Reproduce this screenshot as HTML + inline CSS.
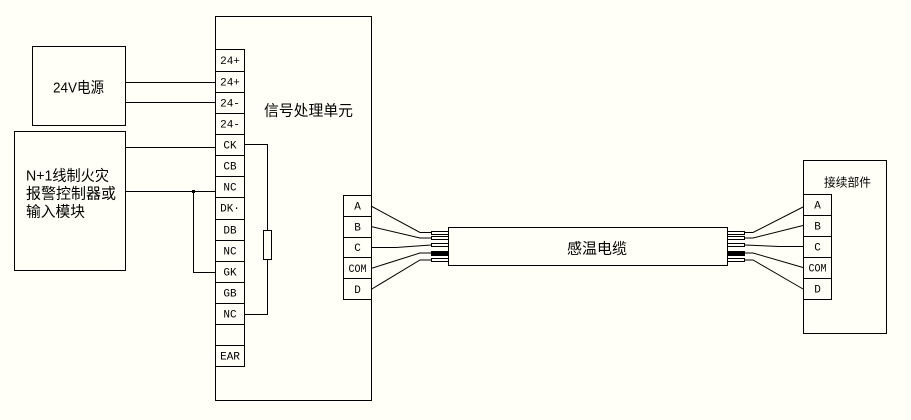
<!DOCTYPE html>
<html>
<head>
<meta charset="utf-8">
<style>
html,body{margin:0;padding:0;background:#fffff7;}
svg{display:block;}
.l{stroke:#000;stroke-width:1;fill:none;shape-rendering:crispEdges;}
.w{stroke:#000;stroke-width:1;fill:none;}
.t{font-family:"Liberation Mono","Noto Sans CJK SC",monospace;font-size:11px;fill:#000;text-anchor:middle;}
.c{font-family:"Liberation Sans","Noto Sans CJK SC",sans-serif;font-size:15px;fill:#000;}
</style>
</head>
<body>
<svg width="911" height="420" viewBox="0 0 911 420" xmlns="http://www.w3.org/2000/svg">
<rect x="0" y="0" width="911" height="420" fill="#fffff7"/>

<!-- 24V power box -->
<rect class="l" x="32.5" y="46.5" width="93" height="79"/>
<text class="c" x="53" y="92.5" textLength="51" lengthAdjust="spacingAndGlyphs">24V电源</text>

<!-- N+1 box -->
<rect class="l" x="14.5" y="131.5" width="111" height="139"/>
<text class="c" x="26" y="180.5" textLength="83" lengthAdjust="spacingAndGlyphs">N+1线制火灾</text>
<text class="c" x="26" y="198.5" textLength="90" lengthAdjust="spacingAndGlyphs">报警控制器或</text>
<text class="c" x="26" y="216.5" textLength="59" lengthAdjust="spacingAndGlyphs">输入模块</text>

<!-- main box -->
<rect class="l" x="215.5" y="16.5" width="156" height="384"/>
<text class="c" x="264" y="115.5" textLength="89" lengthAdjust="spacingAndGlyphs">信号处理单元</text>

<!-- left terminal column -->
<rect class="l" x="215.5" y="49.5" width="29" height="317"/>
<g class="l">
<line x1="215" y1="71.5" x2="245" y2="71.5"/>
<line x1="215" y1="92.5" x2="245" y2="92.5"/>
<line x1="215" y1="113.5" x2="245" y2="113.5"/>
<line x1="215" y1="134.5" x2="245" y2="134.5"/>
<line x1="215" y1="155.5" x2="245" y2="155.5"/>
<line x1="215" y1="176.5" x2="245" y2="176.5"/>
<line x1="215" y1="197.5" x2="245" y2="197.5"/>
<line x1="215" y1="219.5" x2="245" y2="219.5"/>
<line x1="215" y1="240.5" x2="245" y2="240.5"/>
<line x1="215" y1="261.5" x2="245" y2="261.5"/>
<line x1="215" y1="282.5" x2="245" y2="282.5"/>
<line x1="215" y1="303.5" x2="245" y2="303.5"/>
<line x1="215" y1="324.5" x2="245" y2="324.5"/>
<line x1="215" y1="345.5" x2="245" y2="345.5"/>
</g>
<g class="t">
<text x="230" y="64">24+</text>
<text x="230" y="85.5">24+</text>
<text x="230" y="106.5">24-</text>
<text x="230" y="127.5">24-</text>
<text x="230" y="148.5">CK</text>
<text x="230" y="169.5">CB</text>
<text x="230" y="190.5">NC</text>
<text x="230" y="211.5">DK·</text>
<text x="230" y="233.5">DB</text>
<text x="230" y="254.5">NC</text>
<text x="230" y="275.5">GK</text>
<text x="230" y="296.5">GB</text>
<text x="230" y="317.5">NC</text>
<text x="230" y="359.5">EAR</text>
</g>

<!-- connections left -->
<g class="l">
<line x1="125" y1="82.5" x2="215" y2="82.5"/>
<line x1="125" y1="102.5" x2="215" y2="102.5"/>
<line x1="125" y1="147.5" x2="215" y2="147.5"/>
<line x1="125" y1="191.5" x2="215" y2="191.5"/>
<polyline points="193.5,191 193.5,272.5 215,272.5"/>
<!-- resistor loop -->
<polyline points="244,144.5 267.5,144.5 267.5,230"/>
<polyline points="267.5,260 267.5,314.5 244,314.5"/>
<rect x="263.5" y="230.5" width="8" height="29"/>
</g>
<rect x="192" y="190" width="3" height="3" fill="#000"/>

<!-- main box right terminals -->
<rect class="l" x="343.5" y="195.5" width="28" height="104"/>
<g class="l">
<line x1="343" y1="216.5" x2="372" y2="216.5"/>
<line x1="343" y1="237.5" x2="372" y2="237.5"/>
<line x1="343" y1="257.5" x2="372" y2="257.5"/>
<line x1="343" y1="278.5" x2="372" y2="278.5"/>
</g>
<g class="t">
<text x="357.5" y="209.5">A</text>
<text x="357.5" y="230.5">B</text>
<text x="357.5" y="251">C</text>
<text x="357.5" y="272" textLength="18" lengthAdjust="spacingAndGlyphs">COM</text>
<text x="357.5" y="293">D</text>
</g>

<!-- cable -->
<rect class="l" x="448.5" y="227.5" width="279" height="38"/>
<text class="c" x="567" y="253.5" textLength="60" lengthAdjust="spacingAndGlyphs">感温电缆</text>

<!-- left wire ends -->
<g class="l">
<rect x="431.5" y="231.5" width="17" height="3"/>
<rect x="431.5" y="236.5" width="17" height="3"/>
<rect x="431.5" y="243.5" width="17" height="3"/>
<rect x="431.5" y="258.5" width="17" height="3"/>
</g>
<rect x="431" y="251" width="17" height="5" fill="#000"/>
<!-- right wire ends -->
<g class="l">
<rect x="727.5" y="231.5" width="17" height="3"/>
<rect x="727.5" y="236.5" width="17" height="3"/>
<rect x="727.5" y="243.5" width="17" height="3"/>
<rect x="727.5" y="258.5" width="17" height="3"/>
</g>
<rect x="727" y="251" width="18" height="5" fill="#000"/>

<!-- left wires -->
<g class="w">
<polyline points="371,206 420,232.5 431,232.5"/>
<polyline points="371,226.5 420,238 431,238"/>
<polyline points="371,247.5 396,247.5 431,245"/>
<polyline points="371,268.5 420,253 431,253"/>
<polyline points="371,289.5 420,260 431,260"/>
</g>
<!-- right wires -->
<g class="w">
<polyline points="745,232.5 753,232.5 803,207"/>
<polyline points="745,238 753,238 803,225.5"/>
<polyline points="745,245 779,246.5 803,246.5"/>
<polyline points="745,253 753,253 803,267.5"/>
<polyline points="745,260 753,260 803,289"/>
</g>

<!-- right junction box -->
<rect class="l" x="803.5" y="160.5" width="83" height="173"/>
<text class="c" x="824" y="186.5" style="font-size:12px" textLength="47" lengthAdjust="spacingAndGlyphs">接续部件</text>
<rect class="l" x="803.5" y="194.5" width="28" height="105"/>
<g class="l">
<line x1="803" y1="215.5" x2="832" y2="215.5"/>
<line x1="803" y1="236.5" x2="832" y2="236.5"/>
<line x1="803" y1="257.5" x2="832" y2="257.5"/>
<line x1="803" y1="278.5" x2="832" y2="278.5"/>
</g>
<g class="t">
<text x="817.5" y="208.5">A</text>
<text x="817.5" y="229.5">B</text>
<text x="817.5" y="250.5">C</text>
<text x="817.5" y="271.5" textLength="18" lengthAdjust="spacingAndGlyphs">COM</text>
<text x="817.5" y="292.5">D</text>
</g>
</svg>
</body>
</html>
